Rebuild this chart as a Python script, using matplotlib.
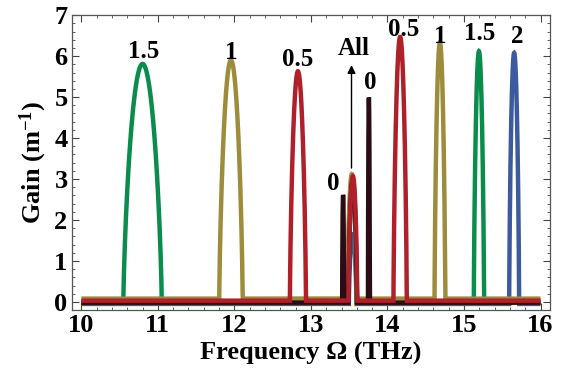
import numpy as np
import matplotlib
matplotlib.use("Agg")
import matplotlib.pyplot as plt
from matplotlib.ticker import MultipleLocator

plt.rcParams['font.family'] = ['Liberation Serif', 'DejaVu Serif']
plt.rcParams['font.weight'] = 'bold'
plt.rcParams['mathtext.fontset'] = 'custom'
plt.rcParams['mathtext.bf'] = 'Liberation Serif:bold'
plt.rcParams['mathtext.rm'] = 'Liberation Serif:bold'
plt.rcParams['mathtext.default'] = 'bf'

# gain curves, one per parameter value
# each peak: (centre THz, half width THz, height m^-1)
names = ["2", "1.5", "1", "0", "0.5"]
colors = ["#3b5b9e", "#0a8c4c", "#9c8c3c", "#2a0c14", "#b0202a"]
base_levels = [-0.05, -0.01, 0.08, -0.02, 0.03]
peaks_2 = [(13.545, 0.050, 1.70), (15.655, 0.065, 6.13)]
peaks_15 = [(10.800, 0.251, 5.82), (13.540, 0.055, 3.00), (15.195, 0.067, 6.13)]
peaks_1 = [(11.955, 0.153, 5.82), (13.535, 0.060, 3.04), (14.685, 0.070, 6.25)]
peaks_0 = [(13.420, 0.012, 2.63), (13.545, 0.055, 3.00), (13.757, 0.012, 5.01)]
peaks_05 = [(12.830, 0.105, 5.60), (13.548, 0.058, 3.04), (14.165, 0.087, 6.44)]
all_peaks = [peaks_2, peaks_15, peaks_1, peaks_0, peaks_05]

# peak labels: (text, x, y)
labels = [("1.5", 10.81, 6.15), ("1", 11.955, 6.13), ("0.5", 12.83, 5.95),
          ("0", 13.29, 2.92), ("0", 13.78, 5.39), ("0.5", 14.215, 6.68),
          ("1", 14.685, 6.53), ("1.5", 15.21, 6.60), ("2", 15.69, 6.53)]

x_ticks = [10, 11, 12, 13, 14, 15, 16]
y_ticks = [0, 1, 2, 3, 4, 5, 6, 7]


def gain_curve(peaks, base):
    pts = [np.linspace(10.0, 16.0, 30001)]
    for c, w, h in peaks:
        pts.append(np.array([c - w, c + w]))
        pts.append(c + w * np.sin(np.linspace(-np.pi / 2, np.pi / 2, 401)))
    x = np.unique(np.concatenate(pts))
    y = np.full_like(x, base)
    for c, w, h in peaks:
        u = (x - c) / w
        inside = np.abs(u) <= 1
        y[inside] = np.maximum(y[inside], base + h * (1 - u[inside] ** 2) ** 0.75)
    return x, y


fig = plt.figure(figsize=(5.65, 3.8), dpi=100)
ax = fig.add_axes([0.127, 0.184, 0.846, 0.776])

for name, col, base, peaks in zip(names, colors, base_levels, all_peaks):
    x, y = gain_curve(peaks, base)
    ax.plot(x, y, color=col, lw=3.2, solid_capstyle='butt', solid_joinstyle='miter')

for txt, lx, ly in labels:
    ax.text(lx, ly - 0.2, txt, ha='center', va='baseline', fontsize=18, fontweight='bold')

ax.annotate("", xy=(13.53, 5.85), xytext=(13.53, 3.2),
            arrowprops=dict(arrowstyle='-|>', color='black', lw=1.0, mutation_scale=12))
ax.text(13.56, 6.23 - 0.2, "All", ha='center', va='baseline', fontsize=18, fontweight='bold')

ax.set_xlim(9.875, 16.12)
ax.set_ylim(-0.2, 7.0)
ax.set_xticks(x_ticks)
ax.set_yticks(y_ticks)
ax.xaxis.set_minor_locator(MultipleLocator(0.2))
ax.yaxis.set_minor_locator(MultipleLocator(0.2))
ax.tick_params(which='both', direction='in', top=True, right=True, color='#444444')
ax.tick_params(which='major', length=5, width=0.8, labelsize=19, pad=3)
ax.tick_params(which='minor', length=2.5, width=0.6)
for lab in ax.get_xticklabels() + ax.get_yticklabels():
    lab.set_fontweight('bold')
for sp in ax.spines.values():
    sp.set_color('#555555')
    sp.set_linewidth(0.9)

ax.set_xlabel("Frequency Ω (THz)", fontsize=19, fontweight='bold', labelpad=3)
ax.set_ylabel("Gain (m$^{-1}$)", fontsize=19, fontweight='bold', labelpad=4)

fig.savefig("out.png", dpi=100)
